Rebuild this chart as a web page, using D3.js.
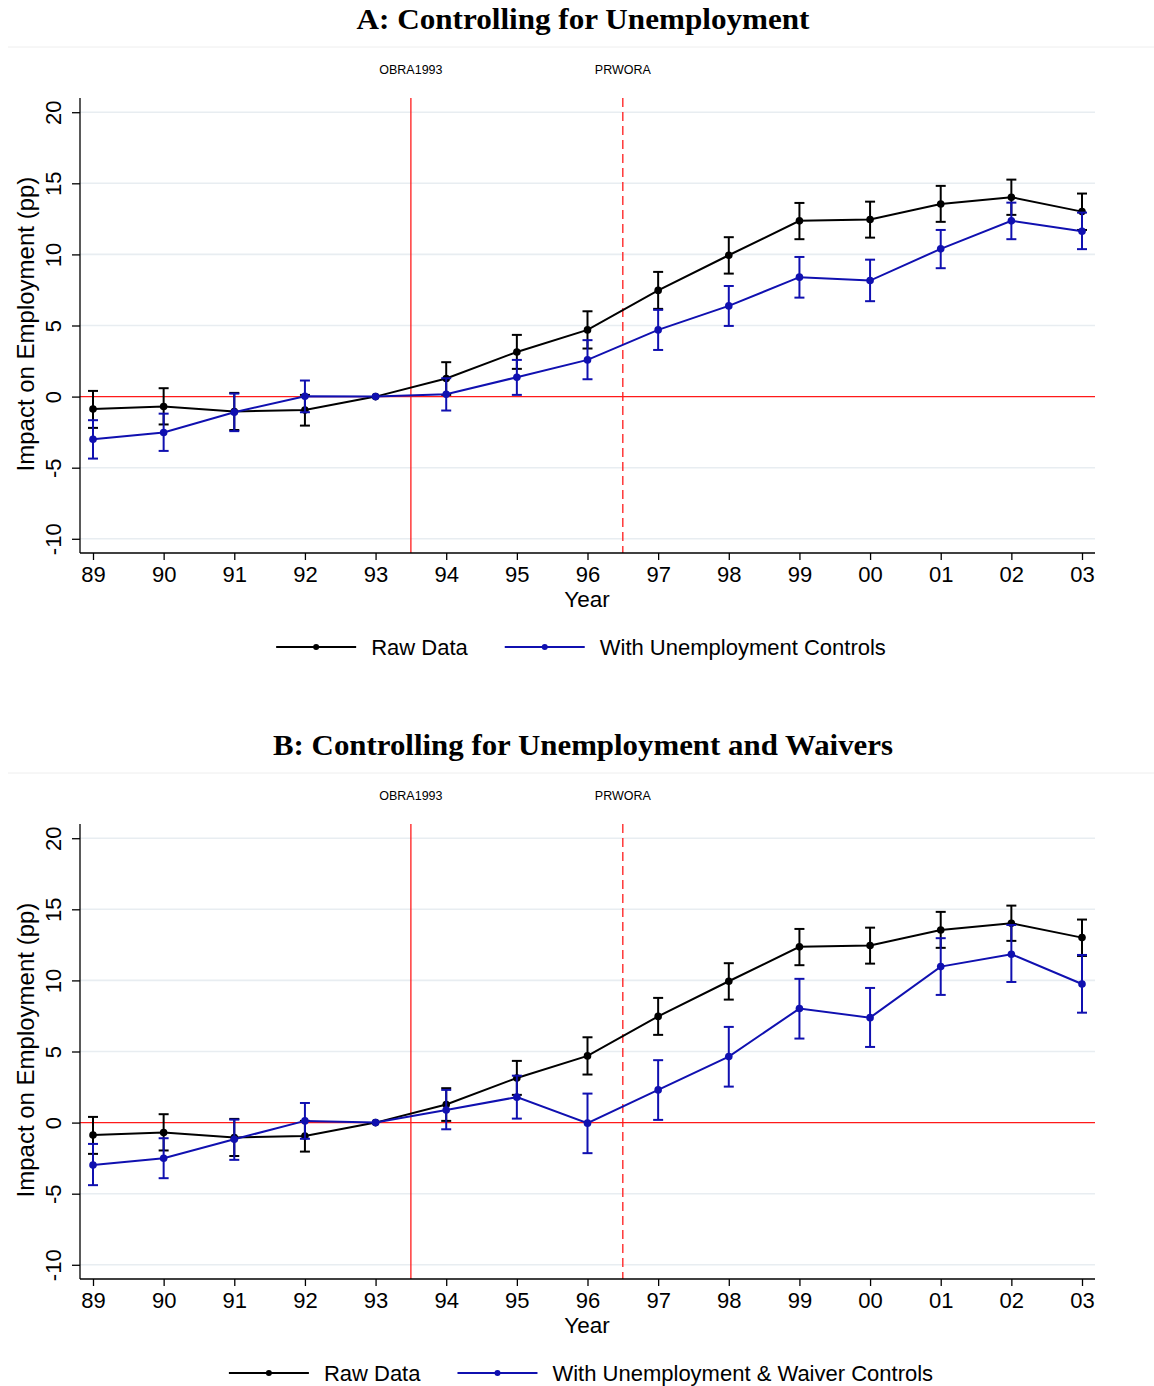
<!DOCTYPE html>
<html>
<head>
<meta charset="utf-8">
<script src="https://cdn.jsdelivr.net/npm/d3@7"></script>
<style>
  html, body { margin: 0; padding: 0; background: #fff; }
  svg { display: block; }
</style>
</head>
<body>
<svg id="chart" width="1154" height="1386"></svg>
<script>
// ---------------- DATA ----------------
const years = ["89","90","91","92","93","94","95","96","97","98","99","00","01","02","03"];
const yTicks = [-10, -5, 0, 5, 10, 15, 20];
const yTickLabels = ["-10", "-5", "0", "5", "10", "15", "20"];

const rawEst = [-0.87, -0.70, -1.05, -0.94, 0, 1.27, 3.14, 4.69, 7.47, 9.94, 12.36, 12.45, 13.55, 14.02, 13.01];
const rawLo  = [-2.20, -1.96, -2.35, -2.04, null, 0.12, 1.95, 3.38, 6.17, 8.65, 11.07, 11.18, 12.29, 12.78, 11.72];
const rawHi  = [ 0.40,  0.59,  0.26,  0.12, null, 2.42, 4.34, 6.00, 8.77, 11.21, 13.62, 13.71, 14.82, 15.26, 14.28];

const unempEst = [-3.00, -2.53, -1.10, 0.02, 0, 0.17, 1.36, 2.58, 4.69, 6.38, 8.40, 8.16, 10.39, 12.36, 11.63];
const unempLo  = [-4.36, -3.82, -2.43, -1.10, null, -0.98, 0.12, 1.22, 3.28, 4.97, 6.96, 6.71, 9.03, 11.07, 10.37];
const unempHi  = [-1.66, -1.20,  0.21,  1.13, null,  1.29, 2.58, 3.97, 6.10, 7.78, 9.82, 9.63, 11.72, 13.64, 12.94];

const waivEst = [-2.98, -2.51, -1.17, 0.12, 0, 0.89, 1.79, -0.04, 2.30, 4.64, 8.02, 7.38, 10.97, 11.84, 9.75];
const waivLo  = [-4.40, -3.91, -2.62, -1.14, null, -0.47, 0.28, -2.15, 0.19, 2.53, 5.91, 5.32, 8.98, 9.89, 7.73];
const waivHi  = [-1.50, -1.10,  0.21,  1.38, null,  2.30, 3.30, 2.04, 4.39, 6.73, 10.11, 9.47, 12.97, 13.90, 11.79];

const policyLines = [
  { label: "OBRA1993", pos: 4.5, dashed: false },
  { label: "PRWORA", pos: 7.5, dashed: true }
];

const panels = [
  { title: "A: Controlling for Unemployment", titleLen: 453, est: unempEst, lo: unempLo, hi: unempHi,
    legend: "With Unemployment Controls", offset: 0 },
  { title: "B: Controlling for Unemployment and Waivers", titleLen: 620, est: waivEst, lo: waivLo, hi: waivHi,
    legend: "With Unemployment & Waiver Controls", offset: 726 }
];

// ---------------- DRAW ----------------
const svg = d3.select("#chart");
const BLACK = "#000000", BLUE = "#1010b0", RED = "#ff1a1a", GRID = "#e8edf1";
const SANS = "'Liberation Sans', Arial, Helvetica, sans-serif";
const SERIF = "'Liberation Serif', 'Times New Roman', serif";

const x = d3.scaleLinear().domain([-0.184, years.length - 1 + 0.184]).range([80, 1095]);

panels.forEach(p => {
  const g = svg.append("g").attr("transform", `translate(0,${p.offset})`);
  const y = d3.scaleLinear().domain([-11, 21]).range([553, 98]);

  // title
  g.append("text").attr("x", 583).attr("y", 29).attr("text-anchor", "middle")
    .attr("font-family", SERIF).attr("font-weight", "bold").attr("font-size", 29)
    .attr("textLength", p.titleLen).attr("lengthAdjust", "spacingAndGlyphs")
    .attr("fill", "#000").text(p.title);
  g.append("line").attr("x1", 8).attr("x2", 1154).attr("y1", 47).attr("y2", 47)
    .attr("stroke", "#eeeeee").attr("stroke-width", 1);

  // gridlines
  g.append("g").selectAll("line").data(yTicks.filter(v => v !== 0)).join("line")
    .attr("x1", 80).attr("x2", 1095)
    .attr("y1", d => y(d)).attr("y2", d => y(d))
    .attr("stroke", GRID).attr("stroke-width", 1.6);

  // zero line
  g.append("line").attr("x1", 80).attr("x2", 1095).attr("y1", y(0)).attr("y2", y(0))
    .attr("stroke", RED).attr("stroke-width", 1.3);

  // policy lines + labels
  policyLines.forEach(pl => {
    g.append("line").attr("x1", x(pl.pos)).attr("x2", x(pl.pos))
      .attr("y1", 98).attr("y2", 553)
      .attr("stroke", RED).attr("stroke-width", 1.3)
      .attr("stroke-dasharray", pl.dashed ? "9,5" : null);
    g.append("text").attr("x", x(pl.pos)).attr("y", 74).attr("text-anchor", "middle")
      .attr("font-family", SANS).attr("font-size", 12.5).attr("fill", "#000")
      .text(pl.label);
  });

  // axes
  const yAxis = d3.axisLeft(y).tickValues(yTicks).tickFormat((d, i) => yTickLabels[i])
    .tickSize(8).tickSizeOuter(0);
  const ya = g.append("g").attr("transform", "translate(80,0)").call(yAxis);
  ya.select(".domain").attr("d", "M0,98V553").attr("stroke", "#000").attr("stroke-width", 1.3);
  ya.selectAll(".tick line").attr("stroke", "#000").attr("stroke-width", 1.3);
  ya.selectAll(".tick text")
    .attr("font-family", SANS).attr("font-size", 22).attr("fill", "#000")
    .attr("x", null).attr("dy", null)
    .attr("text-anchor", "middle")
    .attr("transform", "translate(-19,0) rotate(-90)");

  const xAxis = d3.axisBottom(x).tickValues(d3.range(years.length))
    .tickFormat(i => years[i]).tickSize(7).tickSizeOuter(0);
  const xa = g.append("g").attr("transform", "translate(0,553)").call(xAxis);
  xa.select(".domain").attr("d", "M80,0H1095").attr("stroke", "#000").attr("stroke-width", 1.3);
  xa.selectAll(".tick line").attr("stroke", "#000").attr("stroke-width", 1.3);
  xa.selectAll(".tick text")
    .attr("font-family", SANS).attr("font-size", 22).attr("fill", "#000")
    .attr("y", 28.5).attr("dy", null);

  // axis titles
  g.append("text").attr("x", 587).attr("y", 606.5).attr("text-anchor", "middle")
    .attr("font-family", SANS).attr("font-size", 22.5).attr("fill", "#000").text("Year");
  g.append("text").attr("transform", `translate(34,${y(5.1)}) rotate(-90)`)
    .attr("text-anchor", "middle")
    .attr("font-family", SANS).attr("font-size", 24).attr("fill", "#000")
    .text("Impact on Employment (pp)");

  // series
  const series = [
    { est: rawEst, lo: rawLo, hi: rawHi, color: BLACK },
    { est: p.est, lo: p.lo, hi: p.hi, color: BLUE }
  ];
  const line = d3.line().x((d, i) => x(i)).y(d => y(d));
  series.forEach(s => {
    const sg = g.append("g");
    const idx = d3.range(years.length).filter(i => s.lo[i] !== null);
    sg.selectAll("line.ci").data(idx).join("line").attr("class", "ci")
      .attr("x1", i => x(i)).attr("x2", i => x(i))
      .attr("y1", i => y(s.lo[i])).attr("y2", i => y(s.hi[i]))
      .attr("stroke", s.color).attr("stroke-width", 2);
    [s.lo, s.hi].forEach(arr => {
      sg.selectAll(null).data(idx).join("line")
        .attr("x1", i => x(i) - 5).attr("x2", i => x(i) + 5)
        .attr("y1", i => y(arr[i])).attr("y2", i => y(arr[i]))
        .attr("stroke", s.color).attr("stroke-width", 2);
    });
    sg.append("path").datum(s.est).attr("d", line)
      .attr("fill", "none").attr("stroke", s.color).attr("stroke-width", 2);
    sg.selectAll("circle").data(s.est).join("circle")
      .attr("cx", (d, i) => x(i)).attr("cy", d => y(d)).attr("r", 3.8)
      .attr("fill", s.color);
  });

  // legend
  const leg = g.append("g");
  const items = [{ label: "Raw Data", color: BLACK }, { label: p.legend, color: BLUE }];
  const ly = 647;
  const tmp = leg.append("text").attr("font-family", SANS).attr("font-size", 22);
  const widths = items.map(it => { tmp.text(it.label); return tmp.node().getComputedTextLength(); });
  tmp.remove();
  const total = 80 + 15 + widths[0] + 37 + 80 + 15 + widths[1];
  let cx = 581 - total / 2;
  items.forEach((it, k) => {
    leg.append("line").attr("x1", cx).attr("x2", cx + 80).attr("y1", ly).attr("y2", ly)
      .attr("stroke", it.color).attr("stroke-width", 2);
    leg.append("circle").attr("cx", cx + 40).attr("cy", ly).attr("r", 3).attr("fill", it.color);
    leg.append("text").attr("x", cx + 95).attr("y", ly + 8)
      .attr("font-family", SANS).attr("font-size", 22).attr("fill", "#000").text(it.label);
    cx += 80 + 15 + widths[k] + 37;
  });
});
</script>
</body>
</html>
